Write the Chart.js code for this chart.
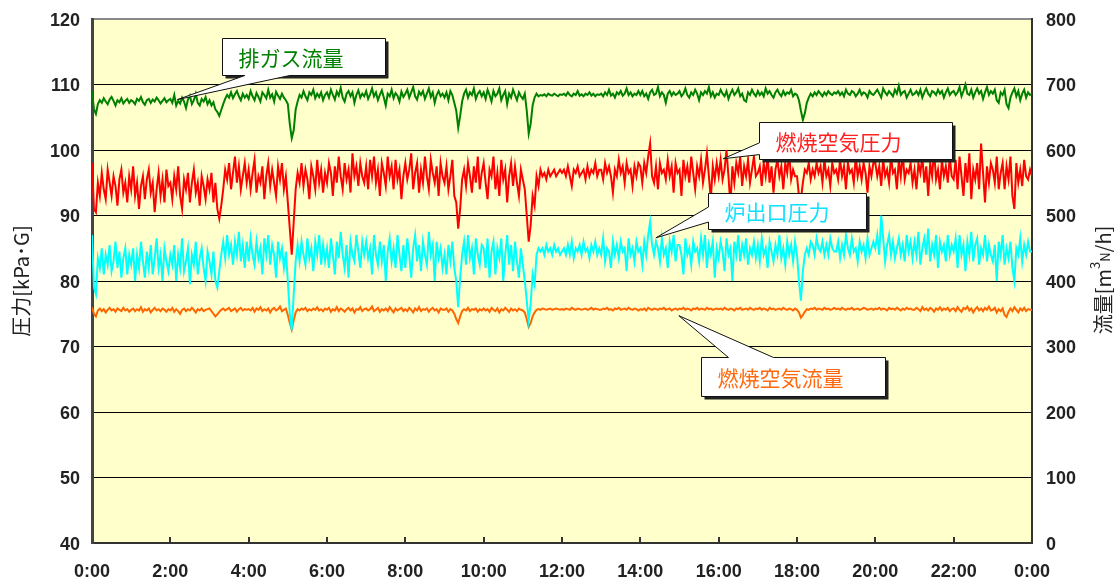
<!DOCTYPE html>
<html lang="ja">
<head>
<meta charset="utf-8">
<title>圧力・流量トレンド</title>
<script src="https://cdn.jsdelivr.net/npm/chart.js@4.4.0/dist/chart.umd.min.js"></script>
<style>
  html, body { margin: 0; padding: 0; background: #fff; }
  #wrap { width: 1114px; height: 584px; }
</style>
</head>
<body>
<div id="wrap"><canvas id="trend" width="1114" height="584"></canvas></div>
<script>
// 3分ごとのサンプル 0:00 〜 24:00 (481点, 1行 = 1時間)
var STEP = 3;

// 排ガス流量 [m3N/h] (右軸)
var exhaustFlow = [
  690, 662, 655, 670, 676, 672, 679, 674, 670, 677, 681, 675, 668, 676, 673, 679, 671, 675, 678, 672,
  676, 674, 670, 678, 675, 681, 673, 669, 676, 678, 672, 677, 674, 680, 676, 671, 675, 679, 673, 676,
  678, 672, 684, 668, 675, 671, 680, 674, 664, 677, 683, 670, 676, 686, 672, 668, 678, 674, 681, 670,
  676, 668, 673, 662, 658, 652, 661, 670, 678, 684, 680, 688, 679, 685, 690, 682, 676, 686, 680, 684,
  678, 690, 682, 676, 687, 681, 674, 688, 684, 679, 692, 680, 685, 674, 689, 683, 678, 686, 680, 676,
  670, 640, 618, 630, 662, 674, 684, 680, 690, 682, 676, 688, 684, 692, 679, 686, 681, 688, 676, 684,
  688, 680, 692, 684, 677, 689, 683, 695, 680, 674, 686, 690, 682, 688, 672, 684, 691, 680, 686, 682,
  690, 678, 685, 694, 682, 688, 676, 684, 691, 680, 668, 686, 682, 692, 679, 687, 683, 674, 689, 681,
  686, 692, 680, 688, 696, 682, 677, 689, 684, 690, 678, 686, 694, 681, 688, 672, 684, 690, 682, 686,
  680, 688, 676, 690, 684, 672, 660, 634, 652, 674, 686, 692, 680, 688, 684, 694, 678, 686, 690, 682,
  688, 678, 692, 684, 674, 690, 682, 686, 694, 676, 684, 690, 670, 686, 680, 692, 684, 676, 688, 682,
  678, 686, 660, 625, 640, 668, 680, 686, 682, 684, 683, 685, 682, 686, 684, 683, 686, 684, 682, 685,
  684, 686, 683, 688, 684, 682, 686, 684, 690, 683, 685, 682, 686, 684, 688, 683, 686, 682, 685, 684,
  686, 682, 688, 684, 692, 683, 686, 680, 688, 685, 690, 683, 686, 694, 684, 688, 682, 686, 684, 690,
  684, 690, 682, 686, 678, 688, 692, 684, 686, 696, 682, 688, 684, 672, 686, 690, 683, 688, 684, 686,
  690, 682, 686, 694, 684, 680, 688, 684, 692, 686, 676, 688, 684, 690, 686, 696, 682, 688, 680, 686,
  684, 692, 686, 682, 690, 678, 686, 692, 684, 688, 694, 682, 686, 676, 674, 688, 684, 692, 686, 682,
  690, 684, 688, 682, 694, 686, 690, 684, 680, 688, 692, 686, 682, 690, 684, 688, 686, 692, 682, 686,
  684, 676, 660, 646, 656, 672, 680, 686, 682, 688, 684, 690, 686, 682, 688, 684, 690, 686, 684, 688,
  686, 690, 684, 688, 682, 692, 686, 684, 690, 688, 682, 686, 692, 684, 688, 686, 680, 690, 686, 684,
  688, 692, 686, 680, 694, 688, 684, 690, 686, 682, 692, 686, 698, 684, 688, 690, 680, 686, 692, 684,
  686, 690, 684, 692, 680, 688, 694, 686, 682, 690, 688, 684, 692, 686, 690, 680, 688, 694, 684, 688,
  690, 684, 688, 696, 682, 690, 700, 686, 684, 692, 680, 688, 694, 686, 690, 678, 688, 696, 684, 690,
  686, 692, 676, 672, 688, 684, 692, 670, 664, 680, 688, 694, 682, 690, 676, 686, 692, 680, 688, 684,
  686
];

// 燃焼空気圧力 [kPa・G] (左軸)
var airPress = [
  98, 91, 90.5, 95, 93, 96.5, 94, 92.5, 97, 95, 93, 96, 94.5, 91.5, 95.5, 97, 93.5, 95, 92, 96,
  94, 97.5, 93, 95, 91, 94.5, 96, 92.5, 95.5, 97, 93.5, 95, 90.5, 94, 96.5, 93, 95.5, 92, 97, 94.5,
  95, 92.5, 96, 94, 97.5, 93, 91, 95.5, 94, 96.5, 92, 95, 97, 93.5, 95, 91.5, 96, 94.5, 92.5, 95.5,
  94, 96.5, 92, 95, 91, 89.5, 91.5, 94, 97, 95.5, 98, 94, 96.5, 99, 95, 97.5, 94, 96, 98, 95,
  97, 94, 96.5, 98.5, 93.5, 96, 95, 97.5, 92.5, 96, 98, 94.5, 97, 95, 93, 97.5, 95.5, 98, 94, 96,
  92, 88, 84, 89, 94, 96.5, 95, 98, 94.5, 97, 95.5, 92.5, 97.5, 96, 94, 98.5, 95, 97, 93.5, 96.5,
  95, 98, 96.5, 93, 97.5, 95, 99, 96, 94, 98, 95.5, 97, 93.5, 99.5, 96, 97.5, 94.5, 98, 96, 95,
  97.5, 94, 98.5, 96, 99, 95, 97, 93, 98, 96.5, 94.5, 99, 96, 97.5, 94, 98.5, 95.5, 97, 92.5, 96,
  98, 95.5, 97, 99.5, 94, 96.5, 98, 93.5, 97, 95, 99, 96, 94, 98.5, 96.5, 95, 97.5, 93, 98, 96,
  95, 97.5, 94, 96, 98.5, 93, 92, 88, 91, 95.5, 97, 94.5, 98, 96, 93.5, 97.5, 95, 99, 94, 96.5,
  98, 95, 92.5, 97, 96, 99, 94, 96.5, 93, 98.5, 95.5, 97, 92, 96, 98, 94.5, 97.5, 95, 93, 97,
  95.5, 94, 90, 86, 88.5, 93, 91.5, 96, 94.5, 97, 96, 96.5, 95.5, 97, 96, 96.5, 97, 96, 96.5, 97,
  96.5, 97, 96, 97.5, 96, 94.5, 97, 96.5, 97.5, 96, 96.5, 97, 95.5, 97.5, 96, 97, 96.5, 98, 96, 97,
  97, 95.5, 98, 96.5, 97.5, 96, 93.5, 97, 96, 98.5, 96.5, 97.5, 95, 98, 96.5, 97, 94.5, 97.5, 96, 98,
  97.5, 95, 98, 96.5, 99, 101, 96, 95, 97.5, 94, 98, 96.5, 97, 95.5, 98.5, 96, 97.5, 93.5, 98, 96.5,
  97, 93, 98.5, 96, 97.5, 95, 99, 96.5, 94, 97.5, 96, 98.5, 95, 97, 99.5, 96, 92.5, 97.5, 95.5, 98,
  96, 98.5, 95.5, 97, 100, 96, 91.5, 97.5, 95, 98, 96.5, 99, 94.5, 97.5, 96, 98.5, 95, 97, 99, 96,
  96.5, 97.5, 94.5, 98, 96, 99, 95, 97.5, 93.5, 97, 98.5, 96, 97.5, 94, 98, 96.5, 99.5, 95.5, 97, 96,
  96, 93, 92.5, 95, 97, 96.5, 98, 95.5, 97, 96, 98, 96.5, 97.5, 95, 98.5, 96, 97, 94.5, 98, 96.5,
  97, 95.5, 98.5, 96, 97.5, 94, 98, 96.5, 97, 95, 99, 96, 97.5, 95.5, 98, 96.5, 93.5, 97.5, 96, 98,
  98, 96, 97.5, 94.5, 98.5, 96, 97, 95, 99, 96.5, 97, 94, 98.5, 96, 99.5, 95.5, 97, 96.5, 98, 95,
  97, 94, 98, 96.5, 99, 95, 97.5, 93, 98, 96, 100, 95.5, 97, 94, 98.5, 96, 97.5, 95, 99, 96,
  95.5, 98.5, 94, 99, 96, 93, 98, 95, 99.5, 92.5, 97, 95.5, 98, 94, 101, 96.5, 92, 97.5, 95, 98,
  97, 95, 99, 94, 96.5, 98, 94, 97.5, 95.5, 99, 93, 91, 98, 95, 97, 94.5, 98.5, 96, 95.5, 97,
  96
];

// 炉出口圧力 [kPa・G] (左軸)
var outletPress = [
  87, 79, 78, 83.5, 82, 85, 81, 84, 82.5, 85.5, 81.5, 83, 86, 82, 84.5, 80.5, 83.5, 85, 81, 84,
  82.5, 85, 80, 84, 82, 86, 83, 80.5, 84.5, 82, 85.5, 81, 83.5, 86.5, 82, 84, 80, 85, 83, 81.5,
  84, 82.5, 85.5, 80, 84, 82, 86.5, 81.5, 83, 85, 79.5, 84, 82.5, 86, 81, 83.5, 85, 82, 80, 84.5,
  83, 81, 84.5, 80, 79, 81.5, 84, 86, 83.5, 87, 84, 85.5, 82.5, 86, 84, 87.5, 83, 85.5, 82, 86,
  83, 86.5, 84, 82.5, 86, 83.5, 85, 81, 86.5, 84, 87, 82.5, 85.5, 84, 80.5, 86, 83.5, 85, 82, 84.5,
  80, 75, 72.5, 78, 83, 85.5, 83, 86, 84, 82.5, 86.5, 83.5, 85, 81.5, 86, 84, 87, 82.5, 85.5, 83,
  85, 82, 86.5, 84, 81, 86, 83.5, 87.5, 84, 82, 85.5, 80.5, 86, 84, 83, 87, 84.5, 82, 86, 84,
  86, 83.5, 85, 81, 87, 84, 82.5, 86, 83, 85.5, 80, 84.5, 86.5, 83, 85, 82, 87, 84, 81.5, 85.5,
  82, 86.5, 84, 80.5, 85, 87, 83, 85.5, 81.5, 86, 84, 82.5, 87.5, 84, 85.5, 80, 86, 83.5, 85, 82,
  84, 81, 85.5, 83, 86, 82, 80, 76, 80.5, 84, 86, 82.5, 87, 83.5, 85, 81, 86.5, 84, 82.5, 85.5,
  85, 82, 86.5, 80.5, 84.5, 86, 81, 85, 83.5, 86.5, 80, 84, 87, 82.5, 85.5, 81.5, 86, 83, 80.5, 85,
  82.5, 80, 77, 74, 76.5, 81, 79.5, 84, 85, 84.5, 85, 84, 85.5, 84.5, 85, 84, 85.5, 84.5, 85, 84,
  84.5, 85, 84, 85.5, 84, 86, 83.5, 85, 84.5, 85.5, 84, 86, 84.5, 85, 83.5, 85.5, 84.5, 86, 84, 85,
  84, 86.5, 83, 85, 84.5, 82, 86, 84, 85.5, 83.5, 86, 84.5, 85, 81.5, 86.5, 84, 85, 83, 86, 84.5,
  85, 82.5, 86, 84, 87, 89, 85.5, 84, 86, 85, 83, 86.5, 84, 85, 82, 86, 84.5, 87, 83, 85.5,
  85.5, 84, 81, 86.5, 84, 85, 82.5, 86, 84.5, 85, 83, 86.5, 84, 87, 82, 85.5, 84, 86, 80.5, 85,
  83.5, 86, 84.5, 81.5, 86.5, 84, 85, 80, 86, 84, 87, 83, 85.5, 84, 86.5, 82.5, 85, 84, 86, 83.5,
  85.5, 83, 86.5, 84, 85, 82, 86, 84.5, 83, 85.5, 84, 87, 83.5, 85, 82.5, 86, 84, 85.5, 83, 86,
  84, 80, 77, 81.5, 84, 85, 84, 86, 85.5, 84, 86.5, 85, 84.5, 86, 84, 85.5, 84, 86.5, 85, 84.5,
  84.5, 86, 83.5, 85.5, 84, 87, 85, 84, 86.5, 84.5, 85, 83, 86, 84.5, 85.5, 83.5, 86.5, 84, 85, 86,
  85, 87, 84, 90, 86.5, 83, 85.5, 87, 84, 86, 83.5, 85, 86.5, 84, 85.5, 83, 87, 84.5, 86, 83.5,
  86, 84, 87.5, 82.5, 85, 86.5, 84, 88, 83, 85.5, 84, 87, 82, 86, 84.5, 85.5, 83, 87, 84, 85.5,
  84.5, 86.5, 82, 87, 84, 85.5, 81.5, 86, 84, 87.5, 83, 85.5, 86.5, 82.5, 85, 84, 87, 83, 85.5, 84,
  83, 85.5, 80, 86, 84, 87, 82.5, 85, 83.5, 86, 82, 80, 85, 84, 86.5, 83, 85.5, 84, 86, 84.5,
  84.5
];

// 燃焼空気流量 [m3N/h] (右軸)
var airFlow = [
  360, 350, 346, 355, 358, 354, 357, 352, 356, 359, 355, 357, 353, 358, 356, 354, 359, 355, 357, 353,
  356, 358, 354, 357, 355, 360, 353, 357, 355, 358, 352, 356, 359, 355, 357, 354, 358, 356, 353, 357,
  355, 359, 353, 357, 354, 350, 356, 358, 354, 357, 355, 359, 356, 352, 357, 355, 358, 354, 356, 357,
  358, 354, 350, 346, 349, 353, 356, 358, 355, 357, 359, 354, 356, 358, 353, 357, 359, 355, 357, 356,
  357, 355, 359, 353, 358, 356, 360, 354, 357, 355, 358, 352, 357, 359, 355, 357, 361, 354, 356, 358,
  348, 336, 326, 340, 352, 357, 355, 358, 356, 359, 354, 357, 355, 358, 356, 360, 355, 357, 354, 358,
  356, 359, 353, 357, 355, 360, 354, 358, 356, 353, 357, 359, 355, 358, 352, 357, 356, 360, 354, 357,
  358, 355, 357, 361, 354, 356, 359, 353, 357, 355, 358, 354, 360, 356, 352, 358, 355, 357, 359, 354,
  357, 354, 359, 356, 352, 358, 355, 360, 354, 357, 356, 358, 353, 357, 359, 355, 357, 352, 358, 356,
  356, 358, 353, 357, 355, 350, 342, 336, 346, 354, 357, 355, 359, 354, 357, 356, 358, 353, 357, 355,
  358, 355, 357, 353, 359, 356, 354, 358, 352, 357, 355, 359, 356, 353, 358, 355, 357, 354, 358, 356,
  355, 352, 342, 330, 336, 346, 352, 356, 357, 356, 358, 357, 356, 357, 358, 356, 357, 358, 357, 356,
  357, 356, 358, 357, 356, 359, 357, 356, 358, 357, 356, 357, 358, 356, 357, 359, 356, 358, 357, 356,
  356, 358, 357, 359, 356, 357, 355, 358, 357, 359, 356, 357, 358, 356, 359, 357, 356, 358, 357, 355,
  357, 356, 358, 355, 359, 357, 356, 358, 357, 356, 358, 357, 359, 356, 357, 358, 355, 357, 358, 356,
  358, 357, 359, 356, 358, 357, 355, 358, 357, 359, 356, 358, 357, 356, 359, 357, 358, 356, 357, 358,
  357, 358, 356, 359, 357, 356, 358, 357, 355, 358, 357, 359, 356, 357, 358, 356, 359, 357, 356, 358,
  357, 359, 356, 358, 357, 355, 359, 357, 358, 356, 357, 358, 356, 359, 357, 356, 358, 357, 355, 358,
  356, 352, 344, 348, 353, 357, 356, 358, 357, 359, 356, 358, 357, 356, 359, 357, 358, 356, 357, 359,
  357, 358, 356, 359, 357, 356, 358, 357, 359, 356, 357, 358, 356, 357, 359, 358, 356, 357, 358, 356,
  358, 357, 359, 356, 358, 357, 355, 359, 357, 358, 356, 359, 357, 355, 358, 356, 359, 357, 358, 356,
  356, 359, 357, 354, 360, 356, 358, 355, 359, 357, 353, 358, 356, 360, 355, 358, 356, 359, 354, 357,
  358, 354, 360, 356, 353, 359, 357, 361, 355, 358, 352, 357, 360, 355, 358, 354, 359, 356, 361, 355,
  356, 359, 352, 357, 354, 358, 348, 345, 353, 358, 354, 360, 356, 352, 358, 355, 359, 354, 357, 356,
  356
];

var minutes = exhaustFlow.map(function (_, i) { return i * STEP; });

function toPoints(values) {
  return values.map(function (v, i) { return { x: minutes[i], y: v }; });
}

// 吹き出し: 座標は x = 分, y = 左軸の値
var callouts = [
  { text: '排ガス流量', color: '#008000', box: [199, 117.15, 449, 111.5], tip: [131, 107.7], side: 'bottom', base: [234, 303] },
  { text: '燃焼空気圧力', color: '#ff2020', box: [1022, 104.3, 1318, 98.65], tip: [967, 98.67], side: 'left', base: [101.1, 99.3] },
  { text: '炉出口圧力', color: '#10e0ff', box: [944, 93.5, 1186, 88.0], tip: [864, 86.6], side: 'left', base: [91.3, 89.0] },
  { text: '燃焼空気流量', color: '#ff6a10', box: [933, 68.45, 1215, 62.5], tip: [899, 74.7], side: 'top', base: [975, 1044] }
];

var tickFont = { family: '"Liberation Sans", Arial, sans-serif', size: 18, weight: 'bold' };
var tickColor = '#222';

var plotBackground = {
  id: 'plotBackground',
  beforeDraw: function (chart) {
    var a = chart.chartArea, ctx = chart.ctx;
    ctx.save();
    ctx.fillStyle = '#ffffcc';
    ctx.fillRect(a.left, a.top, a.right - a.left, a.bottom - a.top);
    ctx.restore();
  }
};

var calloutPlugin = {
  id: 'callouts',
  afterDatasetsDraw: function (chart) {
    var ctx = chart.ctx, sx = chart.scales.x, sy = chart.scales.y;
    callouts.forEach(function (c) {
      var x0 = Math.round(sx.getPixelForValue(c.box[0])) + 0.5;
      var y0 = Math.round(sy.getPixelForValue(c.box[1])) + 0.5;
      var x1 = Math.round(sx.getPixelForValue(c.box[2])) + 0.5;
      var y1 = Math.round(sy.getPixelForValue(c.box[3])) + 0.5;
      var tx = sx.getPixelForValue(c.tip[0]), ty = sy.getPixelForValue(c.tip[1]);
      ctx.save();
      // 影
      ctx.fillStyle = '#222';
      ctx.fillRect(x0 + 3, y0 + 3, x1 - x0, y1 - y0);
      ctx.beginPath();
      if (c.side === 'bottom') {
        var b1 = sx.getPixelForValue(c.base[0]), b2 = sx.getPixelForValue(c.base[1]);
        ctx.moveTo(x0, y0); ctx.lineTo(x1, y0); ctx.lineTo(x1, y1);
        ctx.lineTo(b2, y1); ctx.lineTo(tx, ty); ctx.lineTo(b1, y1);
        ctx.lineTo(x0, y1);
      } else if (c.side === 'left') {
        var u = sy.getPixelForValue(c.base[0]), d = sy.getPixelForValue(c.base[1]);
        ctx.moveTo(x0, y0); ctx.lineTo(x1, y0); ctx.lineTo(x1, y1);
        ctx.lineTo(x0, y1); ctx.lineTo(x0, d); ctx.lineTo(tx, ty); ctx.lineTo(x0, u);
      } else {
        var l = sx.getPixelForValue(c.base[0]), r = sx.getPixelForValue(c.base[1]);
        ctx.moveTo(x0, y0); ctx.lineTo(l, y0); ctx.lineTo(tx, ty); ctx.lineTo(r, y0);
        ctx.lineTo(x1, y0); ctx.lineTo(x1, y1); ctx.lineTo(x0, y1);
      }
      ctx.closePath();
      ctx.fillStyle = '#fff';
      ctx.fill();
      ctx.strokeStyle = '#111';
      ctx.lineWidth = 1;
      ctx.stroke();
      ctx.fillStyle = c.color;
      ctx.font = '21px "Noto Sans CJK JP", sans-serif';
      ctx.textBaseline = 'middle';
      ctx.fillText(c.text, x0 + 16, (y0 + y1) / 2 + 1);
      ctx.restore();
    });
  }
};

// 軸タイトル (右軸は上付き・下付き文字を含む)
var axisTitles = {
  id: 'axisTitles',
  afterDraw: function (chart) {
    var ctx = chart.ctx;
    var font = '20px "Noto Sans CJK JP", sans-serif';
    var small = '13px "Noto Sans CJK JP", sans-serif';
    ctx.save();
    ctx.fillStyle = '#222';
    ctx.textBaseline = 'middle';
    ctx.translate(21, 281);
    ctx.rotate(-Math.PI / 2);
    ctx.font = font;
    ctx.textAlign = 'center';
    ctx.fillText('圧力[kPa･G]', 0, 0);
    ctx.restore();

    var parts = [
      { t: '流量[m', f: font, dy: 0 },
      { t: '3', f: small, dy: -8 },
      { t: 'N', f: small, dy: 2 },
      { t: '/h]', f: font, dy: 0 }
    ];
    ctx.save();
    ctx.fillStyle = '#222';
    ctx.textBaseline = 'middle';
    ctx.translate(1103, 280);
    ctx.rotate(-Math.PI / 2);
    var total = 0;
    parts.forEach(function (p) { ctx.font = p.f; p.w = ctx.measureText(p.t).width; total += p.w; });
    var x = -total / 2;
    parts.forEach(function (p) {
      ctx.font = p.f;
      ctx.fillText(p.t, x, p.dy);
      x += p.w;
    });
    ctx.restore();
  }
};

function noScalePadding(s) {
  s.paddingTop = 0;
  s.paddingBottom = 0;
  s.paddingLeft = 0;
  s.paddingRight = 0;
}

new Chart(document.getElementById('trend'), {
  type: 'line',
  data: {
    datasets: [
      { label: '排ガス流量', data: toPoints(exhaustFlow), yAxisID: 'y1', borderColor: '#008000' },
      { label: '燃焼空気圧力', data: toPoints(airPress), yAxisID: 'y', borderColor: '#ff0000' },
      { label: '炉出口圧力', data: toPoints(outletPress), yAxisID: 'y', borderColor: '#00ffff' },
      { label: '燃焼空気流量', data: toPoints(airFlow), yAxisID: 'y1', borderColor: '#ff6600' }
    ]
  },
  options: {
    responsive: false,
    animation: false,
    layout: { padding: { top: 19, left: 0, right: 0, bottom: 0 } },
    elements: {
      point: { radius: 0 },
      line: { borderWidth: 2, tension: 0 }
    },
    plugins: {
      legend: { display: false },
      tooltip: { enabled: false }
    },
    scales: {
      x: {
        type: 'linear',
        min: 0,
        max: 1440,
        ticks: {
          stepSize: 120,
          autoSkip: false,
          maxRotation: 0,
          padding: 24,
          font: tickFont,
          color: tickColor,
          callback: function (v) { return (v / 60) % 24 + ':00'; }
        },
        grid: { drawOnChartArea: false, tickLength: -6, color: '#333', lineWidth: 2 },
        border: { color: '#333', width: 2 },
        afterFit: function (s) { s.height = 41; noScalePadding(s); }
      },
      y: {
        position: 'left',
        min: 40,
        max: 120,
        ticks: { stepSize: 10, padding: 12, labelOffset: 2, font: tickFont, color: tickColor },
        grid: {
          drawTicks: false,
          color: function (c) { return c.tick && c.tick.value === 120 ? '#888' : '#000'; },
          lineWidth: function (c) { return c.tick && c.tick.value === 120 ? 2 : 1; }
        },
        border: { color: '#444', width: 3 },
        afterFit: function (s) { s.width = 92; noScalePadding(s); }
      },
      y1: {
        position: 'right',
        min: 0,
        max: 800,
        ticks: { stepSize: 100, padding: 14, labelOffset: 2, font: tickFont, color: tickColor },
        grid: { drawOnChartArea: false, drawTicks: false },
        border: { color: '#333', width: 2 },
        afterFit: function (s) { s.width = 82; noScalePadding(s); }
      }
    }
  },
  plugins: [plotBackground, calloutPlugin, axisTitles]
});
</script>
</body>
</html>
